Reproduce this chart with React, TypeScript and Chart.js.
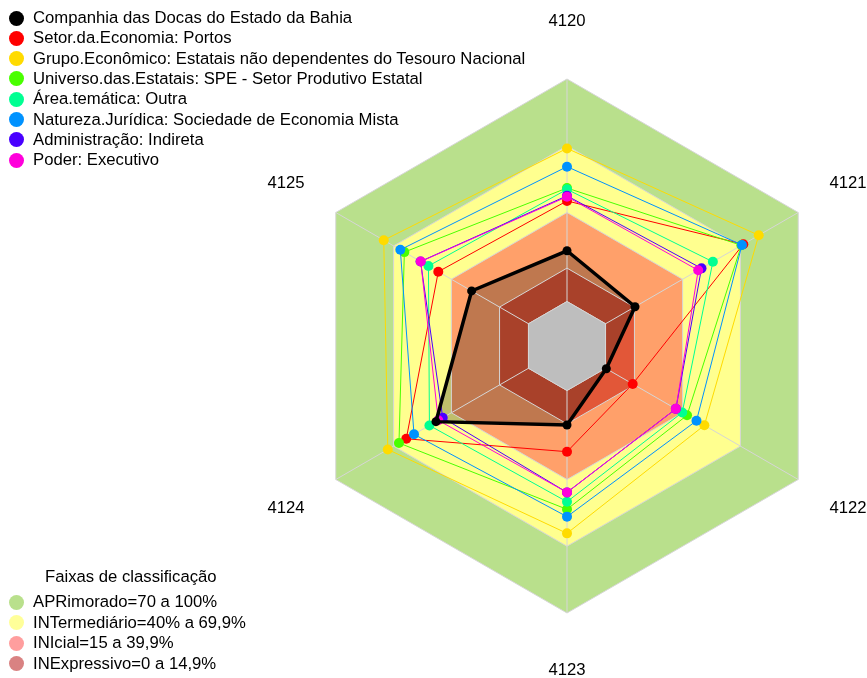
import React, { useEffect, useRef } from "react";
import { Chart, registerables } from "chart.js";

Chart.register(...registerables);

// ---------- data ----------
const axisLabels = ["4120", "4121", "4122", "4123", "4124", "4125"];

const seriesNames = [
  "Companhia das Docas do Estado da Bahia",
  "Setor.da.Economia: Portos",
  "Grupo.Econômico: Estatais não dependentes do Tesouro Nacional",
  "Universo.das.Estatais: SPE - Setor Produtivo Estatal",
  "Área.temática: Outra",
  "Natureza.Jurídica: Sociedade de Economia Mista",
  "Administração: Indireta",
  "Poder: Executivo",
];
const seriesColors = ["#000000", "#FF0000", "#FFDB00", "#49FF00", "#00FF92", "#0092FF", "#4900FF", "#FF00DB"];

const companhia = [22.8, 15.3, 0.4, 15.5, 48, 29.5];
const setorPortos = [45.2, 71.5, 14.1, 27.5, 63.4, 46.8];
const grupoEconomico = [68.8, 79.5, 51.3, 64.2, 73, 75.1];
const universoEstatais = [51, 70.5, 42.3, 53.4, 67.2, 64.4];
const areaTematica = [50.4, 55.7, 39.8, 50, 51.4, 51.9];
const naturezaJuridica = [60.6, 70.8, 47.2, 56.7, 59.4, 66.5];
const administracao = [47.5, 49.8, 36.5, 45.8, 44.5, 56];
const poderExecutivo = [47.1, 48.1, 36.5, 45.8, 46.8, 55.9];
const seriesValues = [companhia, setorPortos, grupoEconomico, universoEstatais, areaTematica, naturezaJuridica, administracao, poderExecutivo];

const bandTitle = "Faixas de classificação";
const bandNames = ["APRimorado=70 a 100%", "INTermediário=40% a 69,9%", "INIcial=15 a 39,9%", "INExpressivo=0 a 14,9%"];
const bandUpper = [100, 70, 40, 15];
const bandFill = ["#B9E08C", "#FFFF8F", "#FFA06A", "#E25738"];
const bandLegendColors = ["#B9E08C", "#FFFF99", "#FF9E9E", "#D98282"];

const scaleMin = -20; // centre hole
const scaleMax = 100;
const holeValue = 0;
const gridValues = [0, 15, 40, 70, 100];

const FONT = '"Liberation Sans", Arial, sans-serif';
const GRID = "#D6D6D6";
const FS = 16.7;

export default function App() {
  const ref = useRef<HTMLCanvasElement | null>(null);

  useEffect(() => {
    const canvas = ref.current;
    if (!canvas) return;

    const seriesDatasets = seriesValues.map((vals, i) => ({
      label: seriesNames[i],
      data: vals,
      borderColor: seriesColors[i],
      backgroundColor: i === 0 ? "rgba(0,0,0,0.25)" : seriesColors[i],
      fill: i === 0 ? "start" : false,
      borderWidth: i === 0 ? 3.5 : 1,
      pointRadius: i === 0 ? 4.5 : 5,
      pointBackgroundColor: seriesColors[i],
      pointBorderWidth: 0,
      pointHoverRadius: 5,
      order: i === 0 ? 0 : 8 - i,
    }));

    const bandDatasets = bandUpper.map((v, i) => ({
      label: bandNames[i],
      data: axisLabels.map(() => v),
      backgroundColor: bandFill[i],
      borderWidth: 0,
      borderColor: "rgba(0,0,0,0)",
      fill: "start",
      pointRadius: 0,
      order: 20 - i,
    }));

    const holePlugin = {
      id: "centerHole",
      beforeDatasetsDraw(chart: any) {
        const s = chart.scales.r;
        const ctx = chart.ctx;
        ctx.save();
        ctx.beginPath();
        axisLabels.forEach((_, i) => {
          const p = s.getPointPositionForValue(i, holeValue);
          if (i === 0) ctx.moveTo(p.x, p.y);
          else ctx.lineTo(p.x, p.y);
        });
        ctx.closePath();
        ctx.fillStyle = "#BEBEBE";
        ctx.fill();
        ctx.strokeStyle = GRID;
        ctx.lineWidth = 1;
        ctx.stroke();
        ctx.restore();
      },
    };

    const labelPlugin = {
      id: "axisLabelsOuter",
      afterDatasetsDraw(chart: any) {
        const s = chart.scales.r;
        const ctx = chart.ctx;
        ctx.save();
        ctx.font = `${FS}px ${FONT}`;
        ctx.fillStyle = "#000";
        ctx.textAlign = "center";
        ctx.textBaseline = "middle";
        axisLabels.forEach((lab, i) => {
          const p = s.getPointPosition(i, s.drawingArea * 1.215);
          ctx.fillText(lab, p.x, p.y);
        });
        ctx.restore();
      },
    };

    const chart = new Chart(canvas, {
      type: "radar",
      data: {
        labels: axisLabels,
        datasets: [...seriesDatasets, ...bandDatasets] as any,
      },
      options: {
        animation: false,
        responsive: false,
        devicePixelRatio: 1,
        layout: { padding: { left: 300, right: 33, top: 79, bottom: 65 } },
        elements: { line: { tension: 0 } },
        plugins: {
          legend: { display: false },
          tooltip: { enabled: false },
          filler: { drawTime: "beforeDraw" } as any,
        },
        scales: {
          r: {
            min: scaleMin,
            max: scaleMax,
            ticks: { display: false, stepSize: 5 },
            afterBuildTicks: (s: any) => {
              s.ticks = gridValues.map((v) => ({ value: v }));
            },
            grid: { color: GRID, lineWidth: 1 },
            angleLines: { color: GRID, lineWidth: 1 },
            pointLabels: { display: false },
          } as any,
        },
      },
      plugins: [holePlugin, labelPlugin],
    });

    return () => chart.destroy();
  }, []);

  const rowStyle = (top: number, left: number): React.CSSProperties => ({
    position: "absolute",
    left,
    top: top - 10,
    height: 20,
    display: "flex",
    alignItems: "center",
    fontFamily: FONT,
    fontSize: FS,
    color: "#000",
    whiteSpace: "nowrap",
  });
  const dot = (c: string): React.CSSProperties => ({
    width: 15,
    height: 15,
    borderRadius: "50%",
    background: c,
    marginRight: 9,
    flex: "0 0 auto",
  });

  return (
    <div style={{ position: "fixed", left: 0, top: 0, width: 867, height: 678, background: "#fff", overflow: "hidden" }}>
      <canvas ref={ref} width={867} height={678} style={{ position: "absolute", left: 0, top: 0, width: 867, height: 678 }} />
      {seriesNames.map((n, i) => (
        <div key={n} style={rowStyle(18 + i * 20.3, 9)}>
          <span style={dot(seriesColors[i])} />
          <span>{n}</span>
        </div>
      ))}
      <div style={{ ...rowStyle(577, 45) }}>{bandTitle}</div>
      {bandNames.map((n, i) => (
        <div key={n} style={rowStyle(602 + i * 20.6, 9)}>
          <span style={dot(bandLegendColors[i])} />
          <span>{n}</span>
        </div>
      ))}
    </div>
  );
}
